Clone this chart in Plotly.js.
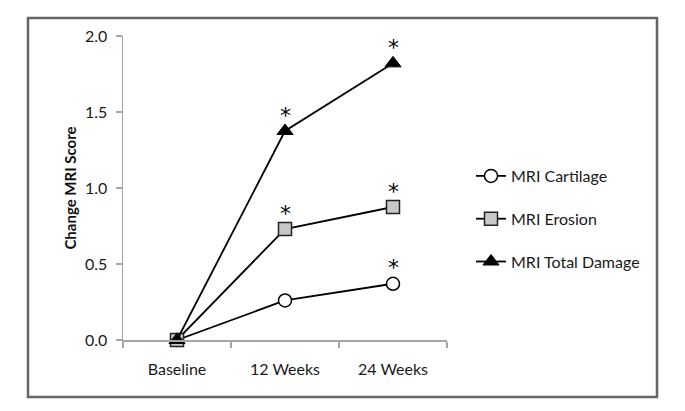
<!DOCTYPE html>
<html>
<head>
<meta charset="utf-8">
<script src="https://cdn.plot.ly/plotly-3.0.1.min.js"></script>
<style>html,body{margin:0;padding:0;background:#fff;}#chart{width:685px;height:411px;}</style>
</head>
<body>
<div id="chart"></div>
<script>
var categories = ["Baseline", "12 Weeks", "24 Weeks"];
var seriesNames = ["MRI Cartilage", "MRI Erosion", "MRI Total Damage"];
var cartilage = [0, 0.26, 0.37];
var erosion = [0, 0.73, 0.875];
var totalDamage = [0, 1.375, 1.82];
// significance markers (true = asterisk shown)
var sigCartilage = [false, false, true];
var sigErosion = [false, true, true];
var sigTotal = [false, true, true];
var yTicks = [0, 0.5, 1.0, 1.5, 2.0];

var FONT = "Lato, 'Open Sans', sans-serif";
var values = [cartilage, erosion, totalDamage];
var sigs = [sigCartilage, sigErosion, sigTotal];
var markers = [
  {symbol: "circle", size: 13, color: "#ffffff", line: {color: "#000", width: 1.5}},
  {symbol: "square", size: 13, color: "#c8c8c8", line: {color: "#222", width: 1.5}},
  {symbol: "triangle-up", size: 14, color: "#000000", line: {color: "#000", width: 1}}
];

var traces = values.map(function (v, i) {
  return {
    type: "scatter", mode: "lines+markers",
    x: categories, y: v, name: seriesNames[i],
    legendgroup: "g" + i,
    line: {color: "#000", width: 1.8},
    marker: markers[i],
    cliponaxis: false
  };
});

var annotations = [];
values.forEach(function (v, i) {
  v.forEach(function (val, j) {
    if (sigs[i][j]) {
      annotations.push({
        x: categories[j], y: val, xref: "x", yref: "y",
        text: "*", showarrow: false, yanchor: "middle", yshift: 16,
        font: {family: "'DejaVu Sans', sans-serif", size: 22, color: "#000"}
      });
    }
  });
});

var L = 123, R = 238, T = 36, B = 71, W = 685, H = 411;
var pw = W - L - R, ph = H - T - B;
function px(x) { return (x - L) / pw; }
function py(y) { return (H - B - y) / ph; }

var layout = {
  width: W, height: H,
  margin: {l: L, r: R, t: T, b: B},
  paper_bgcolor: "#fff", plot_bgcolor: "#fff",
  font: {family: FONT, size: 16, color: "#1a1a1a"},
  showlegend: true,
  legend: {
    x: px(471), xanchor: "left", y: py(219), yanchor: "middle",
    traceorder: "grouped", tracegroupgap: 19,
    itemwidth: 30,
    font: {family: FONT, size: 16, color: "#1a1a1a"},
    bgcolor: "rgba(0,0,0,0)"
  },
  xaxis: {
    type: "category", range: [-0.5, 2.5],
    showline: true, linecolor: "#a6a6a6", linewidth: 1.5,
    ticks: "outside", tickson: "boundaries", ticklen: 6, tickcolor: "#a6a6a6", tickwidth: 1.5,
    ticklabelstandoff: 14,
    showgrid: false, zeroline: false, fixedrange: true,
    tickfont: {family: FONT, size: 16, color: "#1a1a1a"}
  },
  yaxis: {
    range: [0, 2], tickvals: yTicks, tickformat: ".1f",
    showline: true, linecolor: "#a6a6a6", linewidth: 1.5,
    ticks: "outside", ticklen: 6, tickcolor: "#a6a6a6", tickwidth: 1.5,
    ticklabelstandoff: 5,
    showgrid: false, zeroline: false, fixedrange: true,
    tickfont: {family: FONT, size: 16, color: "#1a1a1a"},
    title: {text: "<b>Change MRI Score</b>", font: {family: FONT, size: 15, color: "#111"}, standoff: 4}
  },
  annotations: annotations,
  shapes: [{
    type: "rect", xref: "paper", yref: "paper",
    x0: px(28), x1: px(657), y0: py(397), y1: py(18),
    line: {color: "#666", width: 2.5}, layer: "below"
  }]
};

Plotly.newPlot("chart", traces, layout, {displayModeBar: false, staticPlot: true});
</script>
</body>
</html>
